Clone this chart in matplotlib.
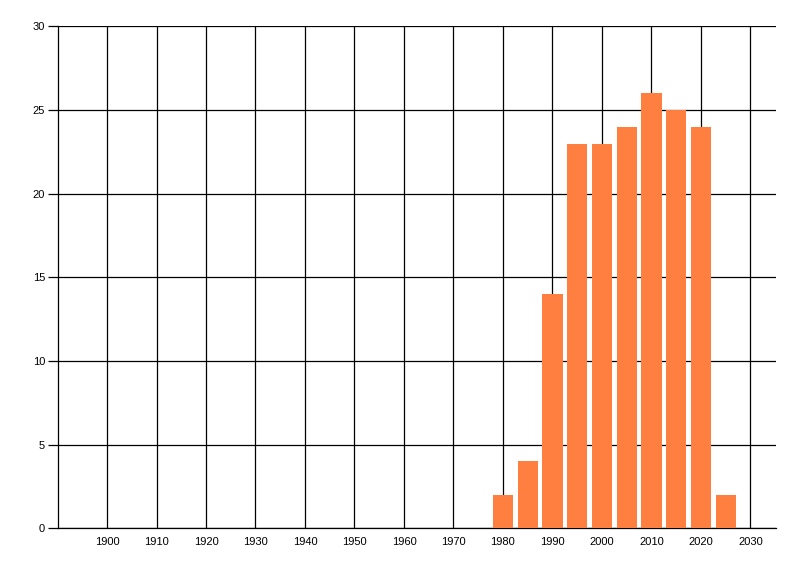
import matplotlib
matplotlib.use('Agg')
from matplotlib import pyplot as plt

years = [1980, 1985, 1990, 1995, 2000, 2005, 2010, 2015, 2020, 2025]
counts = [2, 4, 14, 23, 23, 24, 26, 25, 24, 2]
x_ticks = list(range(1900, 2031, 10))
y_ticks = [0, 5, 10, 15, 20, 25, 30]

plt.rcParams['font.family'] = ['Liberation Sans', 'DejaVu Sans']

fig = plt.figure(figsize=(8, 5.76), dpi=100)
ax = fig.add_axes([0.0719, 0.0828, 0.8977, 0.8712])

ax.bar(years, counts, width=4.1, color='#FF7F40', zorder=3)

ax.set_xlim(1890, 2035.1)
ax.set_ylim(0, 30)
ax.set_xticks(x_ticks)
ax.set_yticks(y_ticks)

ax.grid(True, color='black', linewidth=0.9, zorder=1)
ax.set_axisbelow(True)

for s in ['top', 'right']:
    ax.spines[s].set_visible(False)
for s in ['left', 'bottom']:
    ax.spines[s].set_linewidth(0.9)

ax.tick_params(axis='x', length=0, pad=6, labelsize=8)
ax.tick_params(axis='y', length=7, width=0.9, pad=2, labelsize=8)

fig.savefig('out.png', dpi=100)
